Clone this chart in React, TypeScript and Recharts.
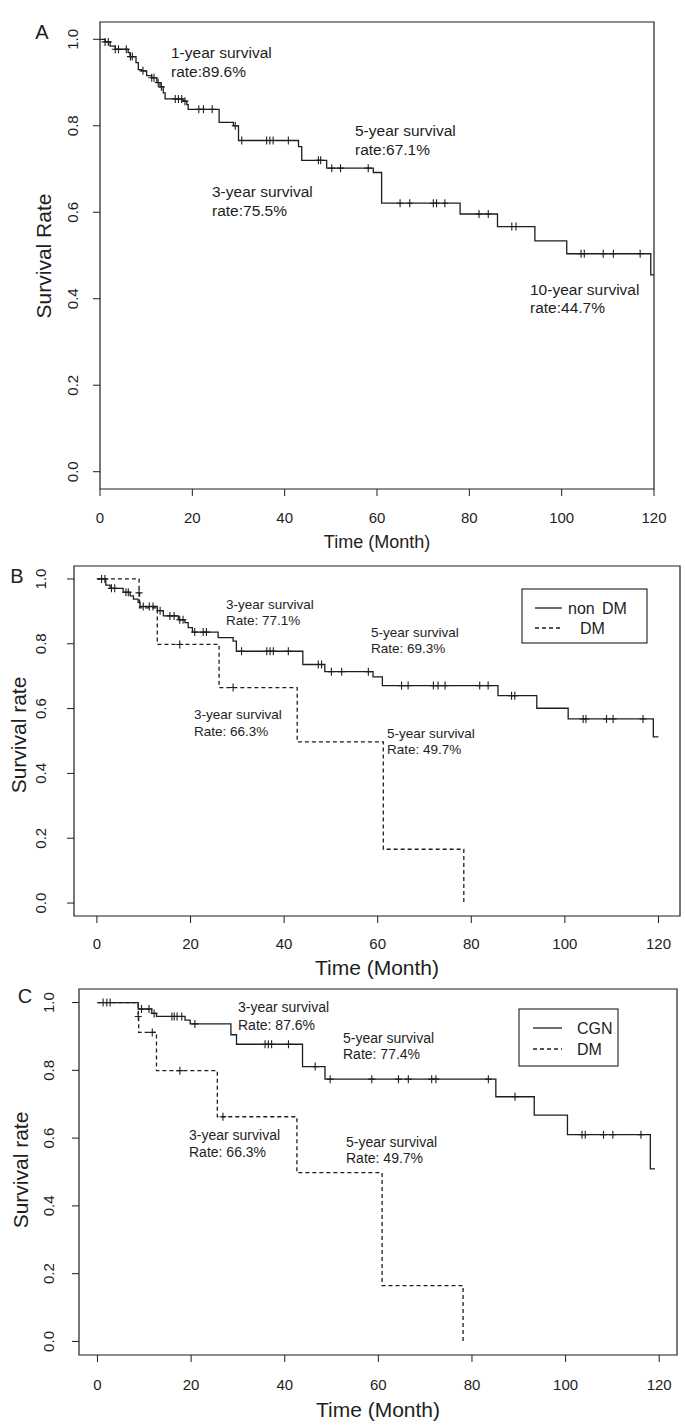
import React from 'react';
import { ComposedChart, Line, Scatter, XAxis, YAxis, ReferenceArea } from 'recharts';

// ---------- Panel A: all patients ----------
const aTime = [0, 1.1, 2.2, 3.3, 6.1, 6.5, 7.8, 8.3, 9.0, 10.1, 11.2, 12.3, 13.0, 13.7, 14.1, 18.0, 18.8, 19.1, 25.8, 28.9, 30.0, 43.0, 43.7, 49.1, 59.2, 61.0, 78.0, 86.1, 94.2, 101.1, 119.3, 120];
const aSurv = [1.0, 0.994, 0.984, 0.977, 0.969, 0.96, 0.946, 0.93, 0.927, 0.916, 0.911, 0.9, 0.89, 0.876, 0.862, 0.857, 0.849, 0.838, 0.808, 0.8, 0.766, 0.752, 0.72, 0.702, 0.692, 0.621, 0.596, 0.567, 0.534, 0.504, 0.455, 0.455];
const aCensor = [1.1, 1.8, 3.3, 4.0, 5.7, 6.6, 7.0, 9.3, 11.2, 11.7, 12.6, 13.3, 16.3, 17.0, 17.7, 18.4, 21.4, 22.4, 24.3, 29.3, 30.7, 36.1, 36.8, 37.5, 40.8, 47.3, 47.8, 50.2, 52.1, 58.1, 65.0, 67.1, 72.2, 72.9, 74.7, 82.1, 84.1, 89.2, 90.1, 104.2, 104.9, 109.0, 111.2, 117.0];

// ---------- Panel B: non DM vs DM ----------
const bNonDmTime = [0, 1.9, 2.8, 5.6, 7.1, 7.8, 8.8, 9.2, 12.9, 14.2, 17.4, 18.8, 19.5, 20.4, 25.9, 29.1, 29.8, 44.0, 48.7, 59.0, 61.0, 85.7, 94.0, 100.7, 118.9, 120];
const bNonDmSurv = [1.0, 0.981, 0.971, 0.959, 0.948, 0.938, 0.928, 0.915, 0.902, 0.886, 0.874, 0.865, 0.85, 0.836, 0.819, 0.808, 0.777, 0.736, 0.714, 0.698, 0.671, 0.64, 0.601, 0.568, 0.513, 0.513];
const bNonDmCensor = [1.0, 1.7, 3.1, 3.8, 6.2, 6.7, 9.9, 11.2, 12.0, 13.5, 15.6, 16.5, 17.7, 18.4, 20.9, 22.7, 23.4, 30.9, 36.3, 37.0, 37.7, 40.9, 47.3, 48.0, 50.1, 52.3, 58.0, 65.1, 66.5, 71.9, 72.9, 74.4, 81.8, 83.6, 88.6, 89.3, 103.9, 104.5, 108.9, 110.3, 116.7];
const bDmTime = [0, 9.0, 9.1, 12.9, 26.1, 42.8, 61.2, 78.4];
const bDmSurv = [1.0, 0.957, 0.911, 0.798, 0.665, 0.497, 0.166, 0];
const bDmCensor = [9.0, 17.7, 29.1];

// ---------- Panel C: CGN vs DM ----------
const cCgnTime = [0, 8.7, 11.6, 12.6, 18.7, 19.8, 28.5, 29.7, 43.8, 48.6, 85.1, 93.3, 100.4, 118.1, 119.1];
const cCgnSurv = [1.0, 0.981, 0.968, 0.959, 0.948, 0.937, 0.905, 0.877, 0.811, 0.774, 0.722, 0.668, 0.61, 0.509, 0.509];
const cCgnCensor = [1.2, 2.0, 2.7, 9.4, 11.0, 12.1, 15.9, 16.4, 17.0, 18.0, 20.8, 35.8, 36.5, 37.2, 40.8, 46.5, 49.7, 58.6, 64.3, 66.4, 71.4, 72.3, 83.5, 89.2, 103.5, 104.2, 108.1, 110.1, 116.1];
const cDmTime = [0, 8.7, 8.8, 12.6, 25.6, 42.6, 60.8, 78.1];
const cDmSurv = [1.0, 0.959, 0.912, 0.799, 0.663, 0.498, 0.165, 0];
const cDmCensor = [8.7, 11.7, 17.6, 26.8];

const xTicks = [0, 20, 40, 60, 80, 100, 120];
const yTicks = [0, 0.2, 0.4, 0.6, 0.8, 1.0];

const FONT = '"Liberation Sans", Arial, sans-serif';
const INK = '#1e1e1e';

function toSteps(times: number[], surv: number[]) {
  return times.map((t, i) => ({ t, s: surv[i] }));
}
function toCensor(censor: number[], times: number[], surv: number[]) {
  return censor.map((c) => {
    let s = surv[0];
    for (let i = 0; i < times.length; i++) if (times[i] <= c) s = surv[i];
    return { t: c, s };
  });
}

const Cross = (props: any) => {
  const { cx, cy } = props;
  if (cx == null || cy == null) return null;
  return <path d={`M${cx - 3.5},${cy}h7M${cx},${cy - 4}v8`} stroke={INK} strokeWidth={1.1} fill="none" />;
};

type Series = { steps: { t: number; s: number }[]; cens: { t: number; s: number }[]; dashed?: boolean };

function KMPanel(p: {
  top: number; height: number; margin: any; xDomain: [number, number];
  series: Series[]; xLabelY: number; yLabelX: number; tickFont: number; yTickFont: number;
}) {
  const { top, height, margin, xDomain, series, xLabelY, yLabelX, tickFont, yTickFont } = p;
  return (
    <div style={{ position: 'absolute', left: 0, top }}>
      <ComposedChart width={685} height={height} margin={margin}>
        <XAxis
          type="number" dataKey="t" domain={xDomain} ticks={xTicks} interval={0}
          allowDataOverflow axisLine={false} tickLine={{ stroke: INK }} tickSize={7} height={50}
          tick={(tp: any) => (
            <text x={tp.x} y={xLabelY} textAnchor="middle" dominantBaseline="central"
              fontSize={tickFont} fontFamily={FONT} fill={INK}>{tp.payload.value}</text>
          )}
        />
        <YAxis
          type="number" dataKey="s" domain={[-0.04, 1.04]} ticks={yTicks} interval={0}
          allowDataOverflow axisLine={false} tickLine={{ stroke: INK }} tickSize={7} width={60}
          tick={(tp: any) => (
            <text x={yLabelX} y={tp.y} textAnchor="middle" dominantBaseline="central"
              transform={`rotate(-90, ${yLabelX}, ${tp.y})`}
              fontSize={yTickFont} fontFamily={FONT} fill={INK}>{Number(tp.payload.value).toFixed(1)}</text>
          )}
        />
        <ReferenceArea x1={xDomain[0]} x2={xDomain[1]} y1={-0.04} y2={1.04}
          fill="none" fillOpacity={0} stroke={INK} strokeWidth={1.2} ifOverflow="visible" />
        {series.map((s, i) => (
          <Line key={'l' + i} data={s.steps} dataKey="s" type="stepAfter" dot={false} activeDot={false}
            stroke={INK} strokeWidth={1.3} strokeDasharray={s.dashed ? '4 3' : undefined}
            isAnimationActive={false} />
        ))}
        {series.map((s, i) => (
          <Scatter key={'c' + i} data={s.cens} dataKey="s" shape={Cross} isAnimationActive={false} />
        ))}
      </ComposedChart>
    </div>
  );
}

const T = (props: { x: number; y: number; size: number; children: any; anchor?: string; rot?: boolean; base?: string }) => (
  <text x={props.x} y={props.y} fontSize={props.size} fontFamily={FONT} fill={INK}
    textAnchor={props.anchor || 'start'} dominantBaseline={props.base || 'alphabetic'}
    transform={props.rot ? `rotate(-90, ${props.x}, ${props.y})` : undefined}>{props.children}</text>
);

export default function App() {
  return (
    <div style={{ position: 'absolute', left: 0, top: 0, width: 685, height: 1425, background: '#fff' }}>
      <KMPanel top={0} height={560} margin={{ top: 22, right: 31, left: 40, bottom: 21 }}
        xDomain={[0, 120]} xLabelY={517} yLabelX={73} tickFont={15} yTickFont={15}
        series={[{ steps: toSteps(aTime, aSurv), cens: toCensor(aCensor, aTime, aSurv) }]} />
      <KMPanel top={560} height={415} margin={{ top: 6, right: 5, left: 14, bottom: 9 }}
        xDomain={[-4.9, 124.6]} xLabelY={383} yLabelX={41} tickFont={15} yTickFont={15}
        series={[
          { steps: toSteps(bNonDmTime, bNonDmSurv), cens: toCensor(bNonDmCensor, bNonDmTime, bNonDmSurv) },
          { steps: toSteps(bDmTime, bDmSurv), cens: toCensor(bDmCensor, bDmTime, bDmSurv), dashed: true },
        ]} />
      <KMPanel top={975} height={450} margin={{ top: 14, right: 8, left: 19, bottom: 20 }}
        xDomain={[-3.95, 123.8]} xLabelY={409} yLabelX={49} tickFont={15} yTickFont={15}
        series={[
          { steps: toSteps(cCgnTime, cCgnSurv), cens: toCensor(cCgnCensor, cCgnTime, cCgnSurv) },
          { steps: toSteps(cDmTime, cDmSurv), cens: toCensor(cDmCensor, cDmTime, cDmSurv), dashed: true },
        ]} />
      <svg width={685} height={1425} style={{ position: 'absolute', left: 0, top: 0, pointerEvents: 'none' }}>
        {/* Panel A */}
        <T x={42} y={32} size={20} anchor="middle" base="central">A</T>
        <T x={43} y={256} size={21} anchor="middle" base="central" rot>Survival Rate</T>
        <T x={377} y={542} size={18} anchor="middle" base="central">Time (Month)</T>
        <T x={171} y={58} size={15.5}>1-year survival</T>
        <T x={171} y={77} size={15.5}>rate:89.6%</T>
        <T x={212} y={197} size={15.5}>3-year survival</T>
        <T x={212} y={216} size={15.5}>rate:75.5%</T>
        <T x={355} y={136} size={15.5}>5-year survival</T>
        <T x={355} y={155} size={15.5}>rate:67.1%</T>
        <T x={530} y={295} size={15.5}>10-year survival</T>
        <T x={530} y={313} size={15.5}>rate:44.7%</T>

        {/* Panel B */}
        <T x={17} y={576} size={20} anchor="middle" base="central">B</T>
        <T x={18} y={735} size={21} anchor="middle" base="central" rot>Survival rate</T>
        <T x={377} y={967} size={21} anchor="middle" base="central">Time (Month)</T>
        <T x={226} y={609} size={13.5}>3-year survival</T>
        <T x={226} y={625} size={13.5}>Rate: 77.1%</T>
        <T x={194} y={719} size={13.5}>3-year survival</T>
        <T x={194} y={736} size={13.5}>Rate: 66.3%</T>
        <T x={371} y={637} size={13.5}>5-year survival</T>
        <T x={371} y={653} size={13.5}>Rate: 69.3%</T>
        <T x={387} y={738} size={13.5}>5-year survival</T>
        <T x={387} y={754} size={13.5}>Rate: 49.7%</T>
        <rect x={522} y={589} width={125} height={54} fill="none" stroke={INK} strokeWidth={1.1} />
        <line x1={535} y1={608} x2={562} y2={608} stroke={INK} strokeWidth={1.3} />
        <line x1={535} y1={628} x2={562} y2={628} stroke={INK} strokeWidth={1.3} strokeDasharray="4 3" />
        <T x={568} y={608} size={16} base="central">non</T>
        <T x={602} y={608} size={16} base="central">DM</T>
        <T x={580} y={628} size={16} base="central">DM</T>

        {/* Panel C */}
        <T x={25} y={996} size={20} anchor="middle" base="central">C</T>
        <T x={20} y={1170} size={21} anchor="middle" base="central" rot>Survival rate</T>
        <T x={378} y={1409} size={21} anchor="middle" base="central">Time (Month)</T>
        <T x={238} y={1012} size={14}>3-year survival</T>
        <T x={238} y={1030} size={14}>Rate: 87.6%</T>
        <T x={189} y={1140} size={14}>3-year survival</T>
        <T x={189} y={1157} size={14}>Rate: 66.3%</T>
        <T x={343} y={1043} size={14}>5-year survival</T>
        <T x={343} y={1059} size={14}>Rate: 77.4%</T>
        <T x={346} y={1147} size={14}>5-year survival</T>
        <T x={346} y={1163} size={14}>Rate: 49.7%</T>
        <rect x={519} y={1009} width={99} height={57} fill="none" stroke={INK} strokeWidth={1.1} />
        <line x1={533} y1={1028} x2={562} y2={1028} stroke={INK} strokeWidth={1.3} />
        <line x1={533} y1={1049} x2={562} y2={1049} stroke={INK} strokeWidth={1.3} strokeDasharray="4 3" />
        <T x={577} y={1028} size={16} base="central">CGN</T>
        <T x={577} y={1049} size={16} base="central">DM</T>
      </svg>
    </div>
  );
}
